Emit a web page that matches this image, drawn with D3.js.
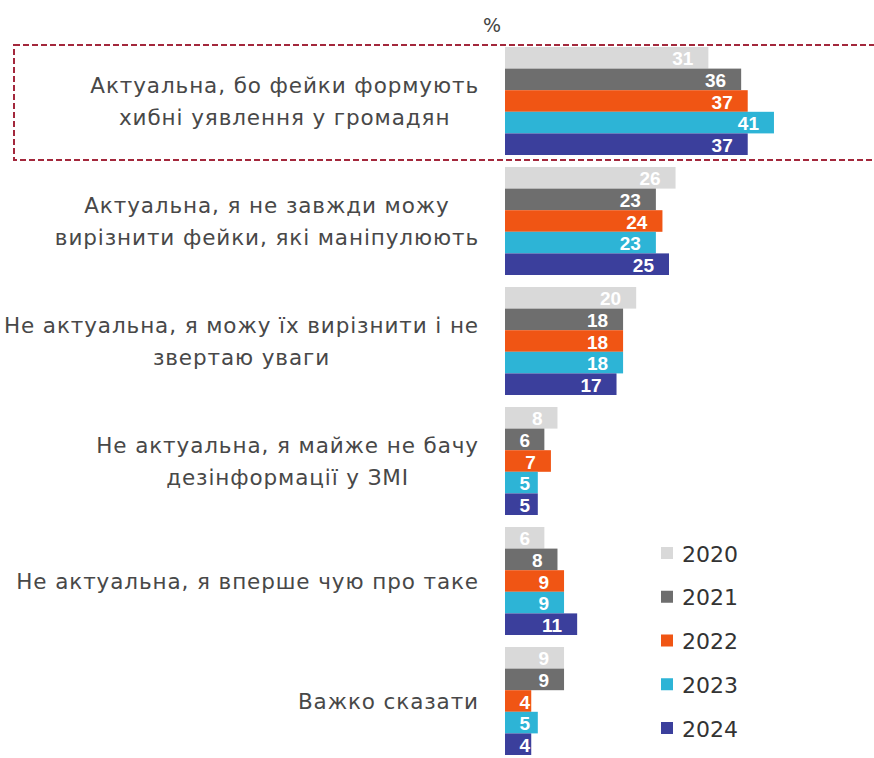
<!DOCTYPE html>
<html>
<head>
<meta charset="utf-8">
<script src="https://cdn.jsdelivr.net/npm/d3@7"></script>
<style>
  html, body { margin: 0; padding: 0; background: #fff; }
  svg { display: block; }
</style>
</head>
<body>
<svg id="chart" width="874" height="758"></svg>
<script>
// Survey answers (each category may wrap onto several lines)
const categories = [
  ["Актуальна, бо фейки формують", "хибні уявлення у громадян"],
  ["Актуальна, я не завжди можу", "вирізнити фейки, які маніпулюють"],
  ["Не актуальна, я можу їх вирізнити і не", "звертаю уваги"],
  ["Не актуальна, я майже не бачу", "дезінформації у ЗМІ"],
  ["Не актуальна, я вперше чую про таке"],
  ["Важко сказати"]
];
const years = ["2020", "2021", "2022", "2023", "2024"];
const colors = ["#d9d9d9", "#6e6e6e", "#f05514", "#2db4d6", "#3b3f9c"];

// Share of respondents, %, one array per year
const v2020 = [31, 26, 20, 8, 6, 9];
const v2021 = [36, 23, 18, 6, 8, 9];
const v2022 = [37, 24, 18, 7, 9, 4];
const v2023 = [41, 23, 18, 5, 9, 5];
const v2024 = [37, 25, 17, 5, 11, 4];
const series = [v2020, v2021, v2022, v2023, v2024];

const unitLabel = "%";

const svg = d3.select("#chart");
const FONT = "'DejaVu Sans', sans-serif";
const NUM_FONT = "'Liberation Sans', Arial, sans-serif";

const catIdx = d3.range(categories.length);
const y0 = d3.scaleBand().domain(catIdx).range([47, 755]).paddingInner(0.1).paddingOuter(0);
const y1 = d3.scaleBand().domain(d3.range(years.length)).range([0, y0.bandwidth()]).padding(0);
const x = d3.scaleLinear().domain([0, 50]).range([505, 833]);

// Highlight frame around the first answer
svg.append("rect")
  .attr("x", 14).attr("y", 45)
  .attr("width", 880).attr("height", 115)
  .attr("fill", "none")
  .attr("stroke", "#a3283c")
  .attr("stroke-width", 2)
  .attr("stroke-dasharray", "6,3");

// Unit caption
svg.append("text")
  .attr("x", 492).attr("y", 25)
  .attr("text-anchor", "middle")
  .attr("dominant-baseline", "central")
  .attr("font-family", FONT)
  .attr("font-size", 19)
  .attr("fill", "#444")
  .text(unitLabel);

// Bars grouped by answer
const groups = svg.append("g").selectAll("g")
  .data(catIdx)
  .join("g")
  .attr("transform", i => `translate(0,${y0(i)})`);

groups.selectAll("rect")
  .data(i => series.map((s, k) => ({ k, v: s[i] })))
  .join("rect")
  .attr("x", x(0))
  .attr("y", d => y1(d.k))
  .attr("width", d => x(d.v) - x(0))
  .attr("height", y1.bandwidth())
  .attr("fill", d => colors[d.k]);

// Value labels inside bar ends
groups.selectAll("text.val")
  .data(i => series.map((s, k) => ({ k, v: s[i] })))
  .join("text")
  .attr("class", "val")
  .attr("x", d => Math.max(x(d.v) - 15, x(0) + 25))
  .attr("y", d => y1(d.k) + y1.bandwidth() / 2 + 1)
  .attr("text-anchor", "end")
  .attr("dominant-baseline", "central")
  .attr("font-family", NUM_FONT)
  .attr("font-weight", "bold")
  .attr("font-size", 19)
  .attr("fill", "#fff")
  .text(d => d.v);

// Category labels: lines centred on each other, block right-aligned to the axis
const labelRight = 479;
const lineH = 32;
const labels = svg.append("g")
  .attr("font-family", FONT)
  .attr("font-size", 21.5)
  .attr("letter-spacing", 0.9)
  .attr("fill", "#484848");

catIdx.forEach(i => {
  const lines = categories[i];
  const g = labels.append("g");
  const cy = y0(i) + y0.bandwidth() / 2;
  const texts = lines.map((ln, j) =>
    g.append("text")
      .attr("y", cy + (j - (lines.length - 1) / 2) * lineH)
      .attr("dominant-baseline", "central")
      .attr("text-anchor", "middle")
      .text(ln));
  const maxW = d3.max(texts, t => t.node().getComputedTextLength());
  texts.forEach(t => t.attr("x", labelRight - maxW / 2));
});

// Legend
const ly = d3.scalePoint().domain(d3.range(years.length)).range([553, 728]);
const legend = svg.append("g").selectAll("g")
  .data(years)
  .join("g")
  .attr("transform", (d, k) => `translate(661,${ly(k)})`);
legend.append("rect")
  .attr("x", 0).attr("y", -6)
  .attr("width", 12).attr("height", 12)
  .attr("fill", (d, k) => colors[k]);
legend.append("text")
  .attr("x", 21).attr("y", 1)
  .attr("dominant-baseline", "central")
  .attr("font-family", FONT)
  .attr("font-size", 22)
  .attr("fill", "#333")
  .text(d => d);
</script>
</body>
</html>
